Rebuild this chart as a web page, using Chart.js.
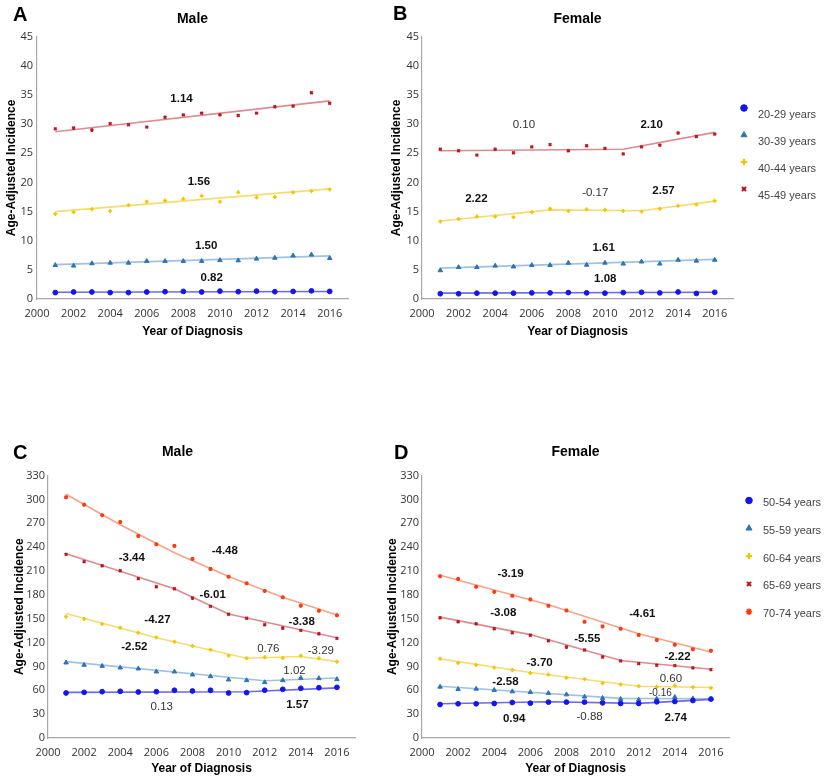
<!DOCTYPE html>
<html>
<head>
<meta charset="utf-8">
<script src="https://cdn.jsdelivr.net/npm/chart.js@4.4.1/dist/chart.umd.min.js"></script>
<style>
  body { margin: 0; background: #fff; width: 825px; height: 782px; position: relative; overflow: hidden; }
  canvas { position: absolute; }
  .tag { position: absolute; z-index: 2; font: bold 20px "Liberation Sans", Arial, sans-serif; color: #000; line-height: 20px; }
</style>
</head>
<body>
<canvas id="chartA" width="360" height="343" style="left:0;top:0"></canvas>
<canvas id="chartB" width="445" height="343" style="left:380px;top:0"></canvas>
<canvas id="chartC" width="365" height="350" style="left:0;top:430px"></canvas>
<canvas id="chartD" width="445" height="350" style="left:380px;top:430px"></canvas>
<div class="tag" style="left:13px;top:4px">A</div>
<div class="tag" style="left:393px;top:3px">B</div>
<div class="tag" style="left:13px;top:442px">C</div>
<div class="tag" style="left:394px;top:442px">D</div>
<script>
// DATA
const years = [2001, 2002, 2003, 2004, 2005, 2006, 2007, 2008, 2009, 2010, 2011, 2012, 2013, 2014, 2015, 2016];
const xTicks = [2000, 2002, 2004, 2006, 2008, 2010, 2012, 2014, 2016];
const yTicksYoung = [0, 5, 10, 15, 20, 25, 30, 35, 40, 45];
const yTicksOld = [0, 30, 60, 90, 120, 150, 180, 210, 240, 270, 300, 330];
const agesYoung = ['20-29 years', '30-39 years', '40-44 years', '45-49 years'];
const agesOld = ['50-54 years', '55-59 years', '60-64 years', '65-69 years', '70-74 years'];

// A - male, young
const maleA_20_29 = [1.1, 1.2, 1.2, 1.1, 1.1, 1.2, 1.25, 1.3, 1.2, 1.35, 1.25, 1.35, 1.25, 1.3, 1.4, 1.3];
const maleA_30_39 = [5.8, 5.7, 6.1, 6.2, 6.2, 6.5, 6.5, 6.5, 6.5, 6.65, 6.6, 6.9, 7.05, 7.45, 7.6, 7.0];
const maleA_40_44 = [14.6, 14.9, 15.4, 15.1, 16.1, 16.7, 16.9, 17.2, 17.7, 16.7, 18.3, 17.4, 17.5, 18.3, 18.5, 18.8];
const maleA_45_49 = [29.2, 29.35, 29.0, 30.1, 29.9, 29.5, 31.2, 31.6, 31.9, 31.6, 31.5, 31.9, 33.0, 33.1, 35.4, 33.6];
const fitA_20_29 = [[2001, 1.15], [2016, 1.3]];
const fitA_30_39 = [[2001, 5.9], [2016, 7.4]];
const fitA_40_44 = [[2001, 15.0], [2016, 18.9]];
const fitA_45_49 = [[2001, 28.7], [2016, 34.0]];
const apcA = [1.14, 1.56, 1.50, 0.82];

// B - female, young
const femaleB_20_29 = [0.9, 0.9, 1.0, 1.0, 1.0, 1.05, 1.05, 1.1, 1.05, 1.0, 1.1, 1.15, 1.05, 1.2, 0.95, 1.15];
const femaleB_30_39 = [4.9, 5.45, 5.45, 5.7, 5.55, 5.8, 5.8, 6.2, 5.85, 6.2, 6.05, 6.4, 6.05, 6.7, 6.55, 6.7];
const femaleB_40_44 = [13.3, 13.75, 14.15, 14.15, 14.05, 14.9, 15.5, 15.1, 15.4, 15.3, 15.1, 15.0, 15.5, 16.0, 16.2, 16.85];
const femaleB_45_49 = [25.7, 25.45, 24.7, 25.7, 25.1, 26.1, 26.5, 25.45, 26.3, 25.85, 24.9, 26.1, 26.4, 28.5, 27.9, 28.3];
const fitB_20_29 = [[2001, 1.0], [2016, 1.15]];
const fitB_30_39 = [[2001, 5.3], [2016, 6.8]];
const fitB_40_44 = [[2001, 13.4], [2007, 15.3], [2012, 15.15], [2016, 16.8]];
const fitB_45_49 = [[2001, 25.45], [2011, 25.7], [2016, 28.6]];
const apcB = [0.10, 2.10, 2.22, -0.17, 2.57, 1.61, 1.08];

// C - male, older
const maleC_50_54 = [56.6, 57.4, 58.2, 58.7, 57.8, 58.2, 60, 59.1, 60, 56.6, 57, 60, 61.2, 62.5, 63.2, 63.7];
const maleC_55_59 = [94.7, 91.8, 90.5, 88.4, 87.2, 83.4, 83.4, 79.6, 77.5, 73.3, 72.5, 70, 72.5, 75.4, 75, 73.8];
const maleC_60_64 = [152.5, 149.6, 143.3, 138.7, 132.4, 126.5, 121.1, 115.7, 111, 103.5, 100.2, 101.4, 100.6, 103.5, 100.2, 95.9];
const maleC_65_69 = [230.9, 221.7, 216.6, 210.3, 200.3, 190.2, 187.7, 176, 165.5, 155.5, 150.5, 142.4, 138.3, 135.3, 131.1, 125.3];
const maleC_70_74 = [302.6, 293.3, 280, 271.5, 254, 243.5, 241.4, 225, 212.4, 202.8, 194.4, 184.8, 176.8, 166.3, 160, 154.2];
const fitC_50_54 = [[2001, 57.3], [2011, 58.1], [2016, 63]];
const fitC_55_59 = [[2001, 96], [2012, 72], [2016, 75.5]];
const fitC_60_64 = [[2001, 156.5], [2006, 126], [2011, 100.2], [2014, 102.5], [2016, 96]];
const fitC_65_69 = [[2001, 231.7], [2007, 187.7], [2010, 156], [2016, 126]];
const fitC_70_74 = [[2001, 306.5], [2004, 268], [2007, 233], [2010, 203], [2013, 177], [2016, 154.5]];
const apcC = [-3.44, -4.48, -6.01, -4.27, -3.38, 0.76, -3.29, -2.52, 1.02, 0.13, 1.57];

// D - female, older
const femaleD_50_54 = [42.1, 43, 43, 43.4, 44.6, 43.8, 45.1, 45.1, 45.1, 44.2, 43.4, 43.4, 45.5, 45.9, 47.1, 48.9];
const femaleD_55_59 = [64.3, 61.4, 61.8, 60.2, 58.4, 57.6, 56.4, 54.6, 51.8, 50.1, 48.9, 48, 49.2, 51.4, 49.6, 49];
const femaleD_60_64 = [99.7, 94.4, 91.9, 88.5, 85.6, 81.8, 79.7, 75.6, 73.9, 68.9, 67.2, 65.2, 64.3, 65.9, 63.9, 63];
const femaleD_65_69 = [151.1, 146.1, 143.6, 137.3, 132.3, 129.1, 122.3, 114.4, 110.7, 101.9, 96.9, 93.5, 91.5, 91, 88.1, 86];
const femaleD_70_74 = [203.4, 200, 190, 183.7, 178.7, 174.2, 166.2, 160.4, 146.1, 140.3, 137.3, 129.4, 123.2, 117.3, 111.5, 109.8];
const fitD_50_54 = [[2001, 43], [2007, 45.5], [2012, 43.5], [2016, 48.5]];
const fitD_55_59 = [[2001, 65], [2011, 49.8], [2016, 49.4]];
const fitD_60_64 = [[2001, 99.5], [2006, 82.4], [2012, 65], [2016, 63.5]];
const fitD_65_69 = [[2001, 152], [2006, 130], [2011, 97.5], [2016, 86.5]];
const fitD_70_74 = [[2001, 204.5], [2007, 167.5], [2012, 131], [2016, 108]];
const apcD = [-3.19, -3.08, -4.61, -5.55, -2.22, -3.70, 0.60, -2.58, -0.16, 0.94, -0.88, 2.74];

// STYLE / LAYOUT
const seriesStyle = [
  { mark: '#1414f0', line: '#6a6af2', shape: 'circle', r: 2.4, bw: 1, lr: 3.3, lbw: 1 },
  { mark: '#2e74b5', line: '#9fc2e3', shape: 'triangle', r: 2.6, bw: 1, lr: 3.5, lbw: 1 },
  { mark: '#f5c400', line: '#f6dc6e', shape: 'cross', r: 2, bw: 1.7, lr: 3.2, lbw: 2.2 },
  { mark: '#c0141c', line: '#df8a8e', shape: 'crossRot', r: 1.9, bw: 1.7, lr: 2.9, lbw: 2 },
  { mark: '#ff3a10', line: '#f7a486', shape: 'star', r: 2, bw: 1.6, lr: 3.2, lbw: 1.6 }
];
// [x, y, weight] where weight: b = bold, n = normal, s = small
const spotsA = [[2007.9, 34.4, 'b'], [2008.85, 20.1, 'b'], [2009.25, 9.1, 'b'], [2009.55, 3.6, 'b']];
const spotsB = [[2005.57, 29.9, 'n'], [2012.55, 29.9, 'b'], [2002.97, 17.2, 'b'], [2009.47, 18.2, 'n'],
  [2013.2, 18.6, 'b'], [2009.93, 8.8, 'b'], [2010.02, 3.5, 'b']];
const spotsC = [[2004.64, 225.9, 'b'], [2009.79, 235.1, 'b'], [2009.12, 179.4, 'b'], [2006.06, 148.1, 'b'],
  [2014.05, 146.2, 'b'], [2012.2, 111.8, 'n'], [2015.11, 110.2, 'n'], [2004.78, 114.3, 'b'],
  [2013.65, 84.0, 'n'], [2006.3, 39.0, 'n'], [2013.81, 41.1, 'b']];
const spotsD = [[2004.9, 205.9, 'b'], [2004.5, 157.2, 'b'], [2012.2, 156.4, 'b'], [2009.15, 124.9, 'b'],
  [2014.15, 101.5, 'b'], [2006.51, 94.9, 'b'], [2013.78, 74.7, 'n'], [2004.62, 70.2, 'b'],
  [2013.2, 55.9, 's'], [2005.1, 23.7, 'b'], [2009.28, 27.0, 'n'], [2014.05, 25.8, 'b']];

const ARIAL = '"Liberation Sans", Arial, sans-serif';
const TICKFONT = '"Open Sans", "Liberation Sans", Arial, sans-serif';

function apcLabels(values, spots) {
  return {
    id: 'apcLabels',
    afterDatasetsDraw(chart) {
      const { ctx, scales: { x, y } } = chart;
      ctx.save();
      ctx.textAlign = 'center';
      ctx.textBaseline = 'middle';
      values.forEach((v, i) => {
        const [sx, sy, w] = spots[i];
        ctx.fillStyle = w === 'b' ? '#111' : '#333';
        ctx.font = (w === 'b' ? 'bold 11.5px ' : w === 's' ? '10px ' : '11.5px ') + ARIAL;
        ctx.fillText(v.toFixed(2), x.getPixelForValue(sx), y.getPixelForValue(sy));
      });
      ctx.restore();
    }
  };
}

function sideLegend(names, pos) {
  return {
    id: 'sideLegend',
    afterDraw(chart) {
      if (!pos) return;
      const ctx = chart.ctx;
      ctx.save();
      names.forEach((name, i) => {
        const st = seriesStyle[i];
        const ty = pos.y + i * pos.step;
        ctx.fillStyle = st.mark;
        ctx.strokeStyle = st.mark;
        ctx.lineWidth = st.lbw;
        Chart.helpers.drawPoint(ctx, { pointStyle: st.shape, radius: st.lr, borderWidth: st.lbw, rotation: 0 },
          pos.markX, ty + pos.markDy);
        ctx.fillStyle = '#444';
        ctx.font = '11px ' + ARIAL;
        ctx.textAlign = 'left';
        ctx.textBaseline = 'middle';
        ctx.fillText(name, pos.textX, ty);
      });
      ctx.restore();
    }
  };
}

function makePanel(id, p) {
  const datasets = [];
  p.values.forEach((vals, i) => {
    const st = seriesStyle[i];
    datasets.push({
      label: p.names[i],
      data: years.map((yr, k) => ({ x: yr, y: vals[k] })),
      showLine: false,
      pointStyle: st.shape,
      pointRadius: st.r,
      pointBackgroundColor: st.mark,
      pointBorderColor: st.mark,
      pointBorderWidth: st.bw
    });
  });
  p.fits.forEach((fit, i) => {
    datasets.push({
      label: p.names[i] + ' fit',
      data: fit.map(([x, y]) => ({ x, y })),
      showLine: true,
      borderColor: seriesStyle[i].line,
      borderWidth: 1.6,
      pointRadius: 0,
      tension: 0
    });
  });

  new Chart(document.getElementById(id), {
    type: 'scatter',
    data: { datasets },
    options: {
      responsive: false,
      animation: false,
      events: [],
      layout: { padding: p.pad },
      scales: {
        x: {
          type: 'linear', min: 2000, max: 2017,
          afterBuildTicks: s => { s.ticks = xTicks.map(v => ({ value: v })); },
          afterFit: s => { s.height = p.xHeight; },
          grid: { display: false, drawTicks: false },
          border: { color: '#a8a8a8', width: 1.2 },
          ticks: { color: '#333', padding: 8, maxRotation: 0, autoSkip: false,
            font: { family: TICKFONT, size: 11 }, callback: v => String(v) },
          title: { display: true, text: 'Year of Diagnosis', color: '#000',
            font: { family: ARIAL, size: 12, weight: 'bold' }, padding: { top: 0, bottom: 4 } }
        },
        y: {
          min: 0, max: p.yTicks[p.yTicks.length - 1],
          afterBuildTicks: s => { s.ticks = p.yTicks.map(v => ({ value: v })); },
          afterFit: s => { s.width = p.yWidth; },
          grid: { display: false, drawTicks: false },
          border: { color: '#a8a8a8', width: 1.2 },
          ticks: { color: '#333', padding: p.yTickPad, font: { family: TICKFONT, size: 11 }, callback: v => String(v) },
          title: { display: true, text: 'Age-Adjusted Incidence', color: '#000',
            font: { family: ARIAL, size: 12, weight: 'bold' }, padding: { top: p.yTitlePad, bottom: 0 } }
        }
      },
      plugins: {
        legend: { display: false },
        tooltip: { enabled: false },
        title: { display: true, text: p.title, fullSize: !!p.titleFull, color: '#000',
          font: { family: ARIAL, size: 14, weight: 'bold' }, padding: p.titlePad }
      }
    },
    plugins: [apcLabels(p.apc, p.spots), sideLegend(p.names, p.legend)]
  });
}

makePanel('chartA', {
  title: 'Male', names: agesYoung, yTicks: yTicksYoung,
  values: [maleA_20_29, maleA_30_39, maleA_40_44, maleA_45_49],
  fits: [fitA_20_29, fitA_30_39, fitA_40_44, fitA_45_49],
  apc: apcA, spots: spotsA,
  pad: { left: 0, right: 12, top: 0, bottom: 0 },
  yWidth: 37, xHeight: 44, yTickPad: 4, yTitlePad: 4,
  titlePad: { top: 11, bottom: 9 }
});

makePanel('chartB', {
  title: 'Female', names: agesYoung, yTicks: yTicksYoung,
  values: [femaleB_20_29, femaleB_30_39, femaleB_40_44, femaleB_45_49],
  fits: [fitB_20_29, fitB_30_39, fitB_40_44, fitB_45_49],
  apc: apcB, spots: spotsB,
  pad: { left: 0, right: 92, top: 0, bottom: 0 },
  yWidth: 42, xHeight: 44, yTickPad: 3, yTitlePad: 9,
  titlePad: { top: 11, bottom: 9 },
  legend: { markX: 364, textX: 378, y: 115, step: 27, markDy: -7 }
});

makePanel('chartC', {
  title: 'Male', names: agesOld, yTicks: yTicksOld,
  values: [maleC_50_54, maleC_55_59, maleC_60_64, maleC_65_69, maleC_70_74],
  fits: [fitC_50_54, fitC_55_59, fitC_60_64, fitC_65_69, fitC_70_74],
  apc: apcC, spots: spotsC,
  pad: { left: 0, right: 10, top: 0, bottom: 0 },
  yWidth: 48, xHeight: 42, yTickPad: 3, yTitlePad: 12,
  titlePad: { top: 14, bottom: 14.7 }, titleFull: true
});

makePanel('chartD', {
  title: 'Female', names: agesOld, yTicks: yTicksOld,
  values: [femaleD_50_54, femaleD_55_59, femaleD_60_64, femaleD_65_69, femaleD_70_74],
  fits: [fitD_50_54, fitD_55_59, fitD_60_64, fitD_65_69, fitD_70_74],
  apc: apcD, spots: spotsD,
  pad: { left: 0, right: 96, top: 0, bottom: 0 },
  yWidth: 42, xHeight: 42, yTickPad: 3, yTitlePad: 5,
  titlePad: { top: 14, bottom: 14.7 },
  legend: { markX: 369, textX: 383, y: 73, step: 27.8, markDy: -2.5 }
});
</script>
</body>
</html>
